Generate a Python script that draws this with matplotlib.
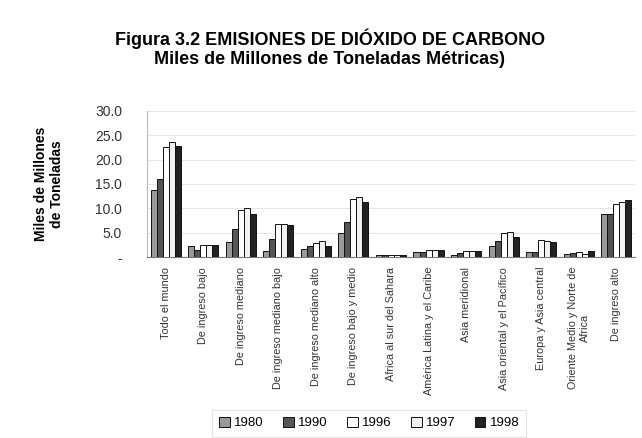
import numpy as np
import matplotlib
matplotlib.use('Agg')
import matplotlib.pyplot as plt

plt.rcParams['font.family'] = ['Liberation Sans', 'DejaVu Sans']

categories = ["Todo el mundo", "De ingreso bajo", "De ingreso mediano",
              "De ingreso mediano bajo", "De ingreso mediano alto",
              "De ingreso bajo y medio", "Africa al sur del Sahara",
              "América Latina y el Caribe", "Asia meridional",
              "Asia oriental y el Pacífico", "Europa y Asia central",
              "Oriente Medio y Norte de\nAfrica", "De ingreso alto"]
years = ["1980", "1990", "1996", "1997", "1998"]

v1980 = [13.7, 2.2, 3.0, 1.3, 1.7, 4.9, 0.5, 1.0, 0.5, 2.2, 1.0, 0.6, 8.9]
v1990 = [16.1, 1.4, 5.8, 3.8, 2.2, 7.1, 0.5, 1.0, 0.8, 3.4, 1.0, 0.8, 8.9]
v1996 = [22.6, 2.4, 9.7, 6.8, 2.9, 12.0, 0.5, 1.4, 1.2, 4.9, 3.5, 1.0, 10.8]
v1997 = [23.7, 2.4, 10.1, 6.8, 3.3, 12.4, 0.5, 1.4, 1.2, 5.1, 3.3, 0.7, 11.4]
v1998 = [22.7, 2.4, 8.8, 6.6, 2.2, 11.2, 0.5, 1.4, 1.2, 4.1, 3.1, 1.2, 11.7]
series = [v1980, v1990, v1996, v1997, v1998]
colors = ["#9a9a9a", "#555555", "#ffffff", "#f2f2f2", "#222222"]

yticks = [0, 5, 10, 15, 20, 25, 30]
ytick_labels = ["-", "5.0", "10.0", "15.0", "20.0", "25.0", "30.0"]

fig = plt.figure(figsize=(6.42, 4.38), dpi=100)
ax = fig.add_axes([0.229, 0.413, 0.76, 0.334])

x = np.arange(len(categories))
w = 0.16
for i, (vals, c) in enumerate(zip(series, colors)):
    ax.bar(x + (i - 2) * w, vals, w, color=c, edgecolor="#111111",
           linewidth=0.7, label=years[i], zorder=3)

ax.set_xlim(-0.5, len(categories) - 0.5)
ax.set_ylim(0, 30)
ax.set_yticks(yticks)
ax.set_yticklabels(ytick_labels, fontsize=10, color="#333333")
ax.set_xticks(x)
ax.set_xticklabels(categories, rotation=90, fontsize=7.8, va="top",
                   ha="center", color="#333333", linespacing=1.25)
ax.tick_params(axis="y", length=0, pad=18)
ax.tick_params(axis="x", length=0, pad=7)
ax.yaxis.grid(True, color="#e6e6e6", linewidth=0.8, zorder=0)
for s in ["top", "right"]:
    ax.spines[s].set_visible(False)
ax.spines["left"].set_color("#bbbbbb")
ax.spines["bottom"].set_color("#777777")

ax.set_ylabel("Miles de Millones\nde Toneladas", fontsize=10, fontweight="bold",
              labelpad=22, linespacing=1.2)

fig.text(0.514, 0.912, "Figura 3.2 EMISIONES DE DIÓXIDO DE CARBONO",
         ha="center", va="center", fontsize=13, fontweight="bold")
fig.text(0.514, 0.865, "Miles de Millones de Toneladas Métricas)",
         ha="center", va="center", fontsize=13, fontweight="bold")

leg = fig.legend(loc="lower center", bbox_to_anchor=(0.575, -0.012), ncol=5,
                 fontsize=9.5, frameon=True, fancybox=False, handlelength=0.8,
                 handleheight=0.8, handletextpad=0.3, columnspacing=1.5,
                 borderpad=0.55)
leg.get_frame().set_edgecolor("#dddddd")
leg.get_frame().set_linewidth(0.8)

fig.savefig("out.png", dpi=100)
